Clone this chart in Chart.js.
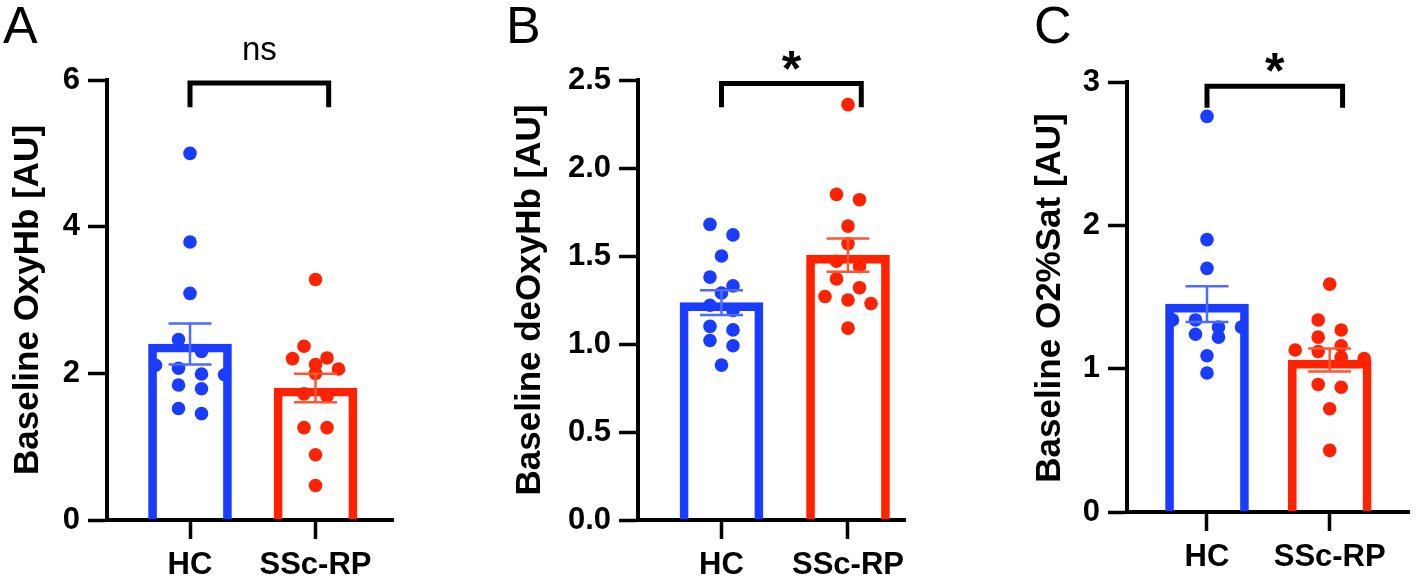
<!DOCTYPE html>
<html><head><meta charset="utf-8">
<script src="https://cdn.jsdelivr.net/npm/chart.js@4.4.1/dist/chart.umd.min.js"></script>
<style>
html,body{margin:0;padding:0;background:#fff;width:1416px;height:582px;overflow:hidden;}
canvas{position:absolute;left:0;top:0;}
</style></head><body>
<canvas id="cA" width="1416" height="582"></canvas>
<canvas id="cB" width="1416" height="582"></canvas>
<canvas id="cC" width="1416" height="582"></canvas>
<script>
// ---------- data ----------
const categories = ['HC', 'SSc-RP'];
const panelLetters = ['A', 'B', 'C'];
const yTitles = ['Baseline OxyHb [AU]', 'Baseline deOxyHb [AU]', 'Baseline O2%Sat [AU]'];
const significance = ['ns', '*', '*'];

// Panel A: OxyHb
const oxyHC  = [5.00, 3.79, 3.09, 2.46, 2.30, 2.11, 2.07, 1.99, 1.98, 1.84, 1.79, 1.52, 1.45];
const oxySSc = [3.28, 2.37, 2.21, 2.20, 2.12, 2.06, 2.00, 1.72, 1.69, 1.26, 1.26, 0.89, 0.47];
const oxyMean = [2.40, 1.80];
const oxySEM  = [0.28, 0.195];
const oxyTicks = [0, 2, 4, 6];

// Panel B: deOxyHb
const deoxyHC  = [1.68, 1.62, 1.50, 1.38, 1.33, 1.29, 1.22, 1.19, 1.10, 1.08, 1.02, 0.99, 0.88];
const deoxySSc = [2.36, 1.85, 1.82, 1.67, 1.57, 1.47, 1.44, 1.37, 1.32, 1.27, 1.25, 1.23, 1.09];
const deoxyMean = [1.235, 1.505];
const deoxySEM  = [0.07, 0.095];
const deoxyTicks = [0, 0.5, 1.0, 1.5, 2.0, 2.5];

// Panel C: O2%Sat
const satHC  = [2.76, 1.90, 1.70, 1.34, 1.34, 1.29, 1.29, 1.24, 1.22, 1.09, 0.97];
const satSSc = [1.59, 1.34, 1.27, 1.22, 1.16, 1.13, 1.12, 1.08, 1.07, 0.89, 0.87, 0.72, 0.43];
const satMean = [1.45, 1.06];
const satSEM  = [0.125, 0.08];
const satTicks = [0, 1, 2, 3];

// ---------- styles ----------
const FONT = "'Liberation Sans', Arial, Helvetica, sans-serif";
const COLORS = ['#1a3cff', '#ff2200'];
const ERR_COLORS = ['#4d6bff', '#ff5533'];
const DOT_R = 6.8, ROW = 12, STEP = 23;

const panels = [
  {id:'cA', letter:panelLetters[0], title:yTitles[0], groups:[oxyHC, oxySSc], mean:oxyMean, sem:oxySEM, ticks:oxyTicks, dec:0, sig:significance[0], sigBold:false,
   padLeft:0, yWidth:107, right:393, top:80, bottom:520, xMin:0.3386, xMax:2.6175, yMax:6, bracketY:5.96, legY:5.63, bracketX:[1, 2.105], letterX:3,
   titleX:28, titleY:300},
  {id:'cB', letter:panelLetters[1], title:yTitles[1], groups:[deoxyHC, deoxySSc], mean:deoxyMean, sem:deoxySEM, ticks:deoxyTicks, dec:1, sig:significance[1], sigBold:true,
   padLeft:503, yWidth:135, right:905, top:80, bottom:520, xMin:0.34, xMax:2.4506, yMax:2.5, bracketY:2.48, legY:2.345, bracketX:[1, 2.105], letterX:506,
   titleX:530, titleY:300},
  {id:'cC', letter:panelLetters[2], title:yTitles[2], groups:[satHC, satSSc], mean:satMean, sem:satSEM, ticks:satTicks, dec:0, sig:significance[2], sigBold:true,
   padLeft:1023, yWidth:104, right:1411, top:82, bottom:512, xMin:0.348, xMax:2.648, yMax:3, bracketY:2.97, legY:2.82, bracketX:[1, 2.105], letterX:1034,
   titleX:1050, titleY:298}
];

const decor = {
  id:'decor',
  afterDatasetsUpdate(chart){
    const xs = chart.scales.x;
    const meta = chart.getDatasetMeta(0);
    const raw = chart.data.datasets[0].data;
    const grp = {};
    meta.data.forEach((el,i)=>{ (grp[raw[i].x] = grp[raw[i].x] || []).push(el); });
    for (const k in grp){
      const cx = xs.getPixelForValue(+k);
      const els = grp[k].slice().sort((a,b)=>a.y-b.y);
      let i = 0;
      while (i < els.length){
        let j = i + 1;
        while (j < els.length && els[j].y - els[i].y < ROW) j++;
        const n = j - i;
        for (let m = 0; m < n; m++) els[i+m].x = cx + (m - (n-1)/2) * STEP;
        i = j;
      }
    }
  },
  afterDatasetsDraw(chart){
    const p = chart.options.plugins.decor.panel;
    const ctx = chart.ctx, xs = chart.scales.x, ys = chart.scales.y;
    ctx.save();
    p.mean.forEach((m,i)=>{
      const x = xs.getPixelForValue(i+1);
      const yt = ys.getPixelForValue(m + p.sem[i]);
      const yb = ys.getPixelForValue(m - p.sem[i]);
      ctx.strokeStyle = ERR_COLORS[i];
      ctx.lineWidth = 2.5;
      ctx.beginPath();
      ctx.moveTo(x, yt); ctx.lineTo(x, yb);
      ctx.moveTo(x-21.5, yt); ctx.lineTo(x+21.5, yt);
      ctx.moveTo(x-21.5, yb); ctx.lineTo(x+21.5, yb);
      ctx.stroke();
    });
    ctx.restore();
  },
  afterDraw(chart){
    const p = chart.options.plugins.decor.panel;
    const ctx = chart.ctx, xs = chart.scales.x, ys = chart.scales.y;
    ctx.save();
    // bracket
    const x1 = xs.getPixelForValue(p.bracketX[0]), x2 = xs.getPixelForValue(p.bracketX[1]);
    const yb = ys.getPixelForValue(p.bracketY), yl = ys.getPixelForValue(p.legY);
    ctx.strokeStyle = '#000'; ctx.lineWidth = 5; ctx.lineCap = 'butt'; ctx.lineJoin = 'miter';
    ctx.beginPath();
    ctx.moveTo(x1, yl); ctx.lineTo(x1, yb); ctx.lineTo(x2, yb); ctx.lineTo(x2, yl);
    ctx.stroke();
    // significance label
    ctx.fillStyle = '#000'; ctx.textAlign = 'center'; ctx.textBaseline = 'alphabetic';
    if (p.sigBold){
      ctx.font = 'bold 50px ' + FONT;
      ctx.fillText(p.sig, (x1+x2)/2, yb + 2);
    } else {
      ctx.font = '33px ' + FONT;
      ctx.fillText(p.sig, (x1+x2)/2, yb - 23);
    }
    // panel letter
    ctx.textAlign = 'left';
    ctx.font = '52px ' + FONT;
    ctx.fillText(p.letter, p.letterX, 43);
    // y-axis title
    ctx.translate(p.titleX, p.titleY);
    ctx.rotate(-Math.PI/2);
    ctx.textAlign = 'center'; ctx.textBaseline = 'middle';
    ctx.font = 'bold 35px ' + FONT;
    ctx.fillText(p.title, 0, 0);
    ctx.restore();
  }
};

panels.forEach(p=>{
  const dots = [];
  const dotColors = [];
  p.groups.forEach((vals,gi)=>vals.forEach(v=>{ dots.push({x:gi+1, y:v}); dotColors.push(COLORS[gi]); }));
  const bars = p.mean.map((m,i)=>({x:i+1, y:m}));
  new Chart(document.getElementById(p.id), {
    type:'bar',
    data:{ datasets:[
      {type:'scatter', order:0, data:dots, pointRadius:DOT_R, pointHoverRadius:DOT_R, pointBackgroundColor:dotColors, pointBorderWidth:0, showLine:false},
      {type:'bar', order:1, data:bars, backgroundColor:'rgba(255,255,255,0)', borderColor:COLORS, borderWidth:8, barThickness:83}
    ]},
    options:{
      responsive:false, animation:false, devicePixelRatio:1, events:[],
      layout:{padding:{left:p.padLeft, right:1416-p.right, top:p.top, bottom:0}},
      plugins:{legend:{display:false}, tooltip:{enabled:false}, decor:{panel:p}},
      scales:{
        x:{type:'linear', min:p.xMin, max:p.xMax, offset:false,
           afterFit:s=>{ s.height = 582 - p.bottom; },
           afterBuildTicks:s=>{ s.ticks = [{value:1},{value:2}]; },
           ticks:{autoSkip:false, maxRotation:0, padding:8, color:'#000', font:{family:FONT, size:31, weight:'bold'},
                  callback:v=>categories[Math.round(v)-1]},
           grid:{display:true, offset:false, drawOnChartArea:false, drawTicks:true, tickLength:19, tickWidth:3.5, tickColor:'#000'},
           border:{display:true, color:'#000', width:4}
        },
        y:{type:'linear', min:0, max:p.yMax,
           afterFit:s=>{ s.width = p.yWidth; },
           afterBuildTicks:s=>{ s.ticks = p.ticks.map(v=>({value:v})); },
           ticks:{padding:8, color:'#000', font:{family:FONT, size:31, weight:'bold'},
                  callback:v=>p.dec ? Number(v).toFixed(p.dec) : String(v)},
           grid:{display:true, offset:false, drawOnChartArea:false, drawTicks:true, tickLength:19, tickWidth:3.5, tickColor:'#000'},
           border:{display:true, color:'#000', width:4},
           title:{display:false}
        }
      }
    },
    plugins:[decor]
  });
});
</script>
</body></html>
